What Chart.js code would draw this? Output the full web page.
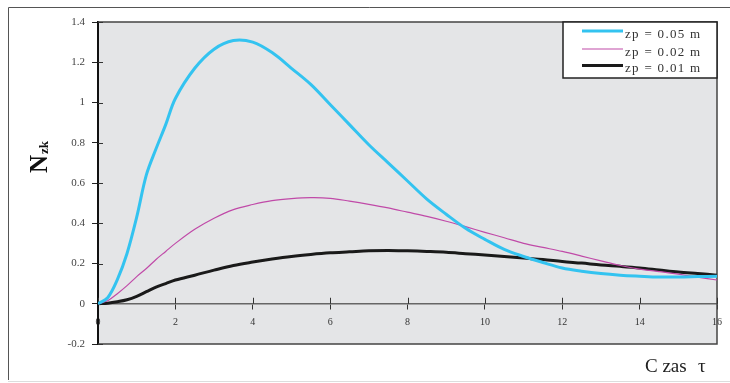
<!DOCTYPE html>
<html>
<head>
<meta charset="utf-8">
<script src="https://cdn.jsdelivr.net/npm/chart.js@4.4.0/dist/chart.umd.min.js"></script>
<style>
  html, body { margin: 0; padding: 0; background: #fff; }
  #wrap { width: 730px; height: 383px; position: relative; }
</style>
</head>
<body>
<div id="wrap"><canvas id="chart" width="730" height="383"></canvas></div>
<script>
// time values (x axis, Czas τ)
const times = [0, 0.25, 0.5, 0.75, 1, 1.25, 1.5, 1.75, 2, 2.5, 3, 3.5, 4, 4.5, 5, 5.5, 6, 6.5, 7, 7.5,
  8, 8.5, 9, 9.5, 10, 10.5, 11, 11.5, 12, 12.5, 13, 13.5, 14, 14.5, 15, 15.5, 16];

// Nzk for zp = 0.05 m
const zp005 = [0, 0.03, 0.12, 0.25, 0.43, 0.64, 0.77, 0.89, 1.02, 1.17, 1.265, 1.308, 1.30, 1.248, 1.17, 1.09, 0.99, 0.89, 0.79, 0.70,
  0.61, 0.52, 0.445, 0.375, 0.32, 0.27, 0.235, 0.205, 0.178, 0.162, 0.15, 0.142, 0.137, 0.133, 0.133, 0.135, 0.137];
// Nzk for zp = 0.02 m
const zp002 = [0, 0.015, 0.05, 0.09, 0.135, 0.175, 0.22, 0.26, 0.30, 0.37, 0.425, 0.468, 0.493, 0.512, 0.522, 0.527, 0.524, 0.51, 0.494, 0.476,
  0.455, 0.434, 0.41, 0.383, 0.355, 0.328, 0.30, 0.28, 0.26, 0.237, 0.213, 0.19, 0.172, 0.16, 0.147, 0.132, 0.118];
// Nzk for zp = 0.01 m
const zp001 = [0, 0.003, 0.01, 0.02, 0.037, 0.06, 0.083, 0.10, 0.118, 0.142, 0.167, 0.19, 0.207, 0.222, 0.235, 0.245, 0.253, 0.258, 0.263, 0.265,
  0.263, 0.26, 0.256, 0.249, 0.242, 0.235, 0.227, 0.22, 0.21, 0.202, 0.193, 0.186, 0.178, 0.168, 0.158, 0.15, 0.142];

const seriesLabels = ['zp = 0.05 m', 'zp = 0.02 m', 'zp = 0.01 m'];
const yTitle = ['N', 'zk'];
const xTitle = ['C zas', 'τ'];

const serif = '"Liberation Serif", "DejaVu Serif", serif';

const toPoints = vals => vals.map((v, i) => ({ x: times[i], y: v }));

// background, frame, crossing ticks, titles and legend
const decor = {
  id: 'decor',
  beforeDraw(chart) {
    const { ctx, chartArea: a } = chart;
    ctx.save();
    ctx.fillStyle = '#e4e5e7';
    ctx.fillRect(a.left, a.top, a.right - a.left, a.bottom - a.top);
    // outer frame
    ctx.strokeStyle = '#555';
    ctx.lineWidth = 1;
    ctx.beginPath();
    ctx.moveTo(730, 7.5);
    ctx.lineTo(8.5, 7.5);
    ctx.lineTo(8.5, 380);
    ctx.stroke();
    ctx.strokeStyle = '#ddd';
    ctx.beginPath();
    ctx.moveTo(8, 381.5);
    ctx.lineTo(730, 381.5);
    ctx.stroke();
    ctx.restore();
  },
  beforeDatasetsDraw(chart) {
    const { ctx, chartArea: a, scales: { x, y } } = chart;
    ctx.save();
    ctx.strokeStyle = '#444';
    ctx.lineWidth = 1.5;
    ctx.beginPath();
    ctx.moveTo(a.left, a.top);
    ctx.lineTo(a.right, a.top);
    ctx.lineTo(a.right, a.bottom);
    ctx.lineTo(a.left, a.bottom);
    ctx.stroke();
    // inner halves of tick marks
    const y0 = y.getPixelForValue(0);
    ctx.strokeStyle = '#333';
    ctx.lineWidth = 1;
    x.ticks.forEach(t => {
      const px = Math.round(x.getPixelForValue(t.value)) + 0.5;
      ctx.beginPath();
      ctx.moveTo(px, y0 - 6);
      ctx.lineTo(px, y0);
      ctx.stroke();
    });
    y.ticks.forEach(t => {
      const py = Math.round(y.getPixelForValue(t.value)) + 0.5;
      ctx.beginPath();
      ctx.moveTo(a.left, py);
      ctx.lineTo(a.left + 5, py);
      ctx.stroke();
    });
    ctx.restore();
  },
  afterDraw(chart) {
    const { ctx, chartArea: a } = chart;
    ctx.save();
    // y title N_zk, rotated
    ctx.translate(47, 173);
    ctx.rotate(-Math.PI / 2);
    ctx.fillStyle = '#111';
    ctx.textBaseline = 'alphabetic';
    ctx.font = 'bold 25px ' + serif;
    ctx.fillText(yTitle[0], 0, 0);
    const nw = ctx.measureText(yTitle[0]).width;
    ctx.font = 'bold 13px ' + serif;
    ctx.fillText(yTitle[1], nw + 1, 1);
    ctx.restore();

    ctx.save();
    ctx.fillStyle = '#222';
    ctx.font = '19px ' + serif;
    ctx.fillText(xTitle[0], 645, 372);
    ctx.fillText(xTitle[1], 698, 372);
    ctx.restore();

    // legend box
    ctx.save();
    const lx = 563, ly = 22, lw = a.right - 563, lh = 56;
    ctx.fillStyle = '#fff';
    ctx.fillRect(lx, ly, lw, lh);
    ctx.strokeStyle = '#222';
    ctx.lineWidth = 1.5;
    ctx.strokeRect(lx, ly, lw, lh);
    const rows = [31, 49, 65.5];
    ctx.font = '13px ' + serif;
    ctx.letterSpacing = '1.3px';
    ctx.textBaseline = 'alphabetic';
    chart.data.datasets.forEach((ds, i) => {
      ctx.strokeStyle = ds.borderColor;
      ctx.lineWidth = ds.borderWidth;
      ctx.beginPath();
      ctx.moveTo(582, rows[i]);
      ctx.lineTo(623, rows[i]);
      ctx.stroke();
      ctx.fillStyle = '#333';
      ctx.fillText(ds.label, 625, rows[i] + 6.5);
    });
    ctx.restore();
  }
};

new Chart(document.getElementById('chart'), {
  type: 'line',
  data: {
    datasets: [
      { label: seriesLabels[0], data: toPoints(zp005), borderColor: '#33c3f0', borderWidth: 3 },
      { label: seriesLabels[1], data: toPoints(zp002), borderColor: '#c04aa8', borderWidth: 1.2 },
      { label: seriesLabels[2], data: toPoints(zp001), borderColor: '#1a1a1a', borderWidth: 3 }
    ]
  },
  options: {
    responsive: false,
    animation: false,
    events: [],
    layout: { padding: { left: 0, top: 22, right: 8, bottom: 39 } },
    elements: {
      point: { radius: 0 },
      line: { tension: 0.35, fill: false, capBezierPoints: true }
    },
    plugins: { legend: { display: false }, tooltip: { enabled: false } },
    scales: {
      x: {
        type: 'linear',
        position: { y: 0 },
        min: 0,
        max: 16,
        ticks: {
          stepSize: 2,
          padding: 8,
          color: '#333',
          font: { family: serif, size: 10 }
        },
        grid: { display: true, drawOnChartArea: false, tickLength: 5, color: '#333' },
        border: { display: true, color: '#666', width: 1.5 }
      },
      y: {
        min: -0.2,
        max: 1.4,
        afterFit(scale) { scale.width = 98; },
        ticks: {
          stepSize: 0.2,
          padding: 7,
          color: '#444',
          font: { family: serif, size: 11 },
          callback: v => String(+v.toFixed(2))
        },
        grid: { display: true, drawOnChartArea: false, tickLength: 6, color: '#222' },
        border: { display: true, color: '#111', width: 2 }
      }
    }
  },
  plugins: [decor]
});
</script>
</body>
</html>
